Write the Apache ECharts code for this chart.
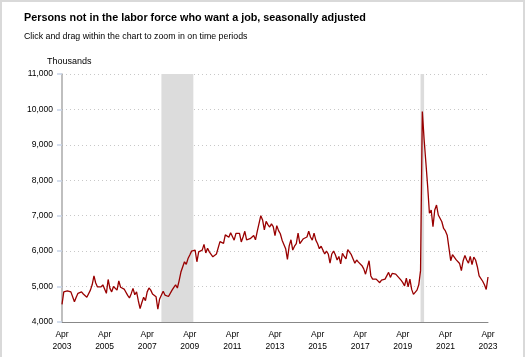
<!DOCTYPE html>
<html>
<head>
<meta charset="utf-8">
<script src="https://cdn.jsdelivr.net/npm/echarts@6/dist/echarts.min.js"></script>
<style>
html,body{margin:0;padding:0;background:#fff;}
#frame{position:absolute;left:0;top:0;width:525px;height:357px;box-sizing:border-box;border-top:2px solid #d9d9d9;border-left:2px solid #d9d9d9;border-right:2px solid #d9d9d9;}
#chart{position:absolute;left:0;top:0;width:525px;height:357px;}
</style>
</head>
<body>
<div id="chart"></div>
<div id="frame"></div>
<script>
// Monthly values, Apr 2003 .. Apr 2023 (thousands)
const startYear = 2003, startMonth = 4;
const values = [
// 2003 Apr-Dec
4500,4850,4820,4880,4860,4850,4800,4570,4700,
// 2004
4810,4830,4850,4790,4770,4700,4680,4900,5050,5300,5100,4990,
// 2005
5000,4990,5050,5100,4810,5200,4950,4850,5000,5040,4900,5160,
// 2006
4980,4950,4930,4900,4750,4680,4800,4950,4770,4850,4600,4380,
// 2007
4550,4700,4600,4850,4960,4900,4790,4840,4710,4360,4650,4700,
// 2008
4870,4760,4740,4720,4770,4900,4980,5050,4960,5170,5410,5440,
// 2009
5700,5630,5790,5890,6000,5950,6030,5700,5980,5980,6030,6190,
// 2010
5950,6080,5980,5930,5840,5890,5920,5950,6270,6310,6220,6460,
// 2011
6420,6390,6520,6550,6310,6500,6530,6500,6260,6400,6560,6320,
// 2012
6340,6350,6320,6440,6320,6560,6540,7000,6880,6600,6840,6750,
// 2013
6680,6770,6690,6440,6720,6580,6490,6310,6190,6070,5770,6150,
// 2014
6320,6030,6140,6210,6510,6210,6260,6350,6320,6400,6560,6400,
// 2015
6310,6510,6310,6210,6070,6140,6120,5920,6000,5920,5660,5920,
// 2016
6000,5900,5750,5850,5640,5940,5850,5780,6040,5970,5900,5780,
// 2017
5660,5750,5690,5730,5590,5500,5350,5540,5730,5300,5210,5260,
// 2018
5210,5240,5110,5180,5210,5210,5180,5400,5260,5370,5400,5350,
// 2019
5300,5240,5180,5110,5020,5240,4990,5210,4920,4780,4830,4900,
// 2020
5050,5450,9940,9160,8500,7830,7070,7160,6690,7160,7300,7020,
// 2021
6970,6830,6640,6570,6450,6500,5730,5900,5850,5760,5720,5650,
// 2022
5450,5730,5880,5750,5660,5850,5620,5830,5750,5560,5300,5350,
// 2023 Jan-Apr
5150,5050,4920,5270
];
const yTicks = [4000,5000,6000,7000,8000,9000,10000,11000];
const recessions = [["2007-12","2009-06"],["2020-02","2020-04"]];

const categories = values.map((v,i)=>{
  const t = startMonth - 1 + i;
  const y = startYear + Math.floor(t/12);
  const m = (t % 12) + 1;
  return y + "-" + String(m).padStart(2,"0");
});
const monthNames = ["Jan","Feb","Mar","Apr","May","Jun","Jul","Aug","Sep","Oct","Nov","Dec"];
const FONT = 'Liberation Sans, Arial, sans-serif';

const chart = echarts.init(document.getElementById('chart'), null, {renderer:'canvas'});
chart.setOption({
  animation:false,
  backgroundColor:'#fff',
  title:[
    {text:'Persons not in the labor force who want a job, seasonally adjusted', left:24, top:13, padding:0,
     textStyle:{fontFamily:FONT, fontSize:10.8, fontWeight:'bold', color:'#000'}},
    {text:'Click and drag within the chart to zoom in on time periods', left:24, top:32, padding:0,
     textStyle:{fontFamily:FONT, fontSize:8.8, fontWeight:'normal', color:'#000'}},
    {text:'Thousands', left:47, top:57, padding:0,
     textStyle:{fontFamily:FONT, fontSize:9, fontWeight:'normal', color:'#000'}}
  ],
  grid:{left:62, right:37, top:74, bottom:35, containLabel:false},
  xAxis:{
    type:'category', data:categories, boundaryGap:false,
    axisLine:{show:true, lineStyle:{color:'#888', width:1}},
    axisTick:{show:false},
    splitLine:{show:false},
    axisLabel:{
      interval:(idx)=> idx % 24 === 0,
      margin:7, lineHeight:12,
      fontFamily:FONT, fontSize:8.5, color:'#000',
      formatter:(val)=>{ const p=val.split('-'); return monthNames[+p[1]-1]+'\n'+p[0]; }
    }
  },
  yAxis:{
    type:'value', min:yTicks[0], max:yTicks[yTicks.length-1], interval:1000,
    axisLine:{show:true, lineStyle:{color:'#aaa', width:1.5}},
    axisTick:{show:true, length:5, lineStyle:{color:'#c8d3e8', width:1.5}},
    splitLine:{show:true, lineStyle:{color:'#c8c8c8', type:[1,3], width:1}},
    axisLabel:{margin:9, fontFamily:FONT, fontSize:8.5, color:'#000',
      formatter:(v)=>v.toLocaleString('en-US')}
  },
  series:[{
    type:'line', data:values, showSymbol:false, symbol:'none',
    lineStyle:{color:'#990000', width:1.3},
    markArea:{
      silent:true,
      itemStyle:{color:'#dcdcdc'},
      data:recessions.map(r=>[{xAxis:r[0]},{xAxis:r[1]}])
    },
    z:3
  }]
});
</script>
</body>
</html>
